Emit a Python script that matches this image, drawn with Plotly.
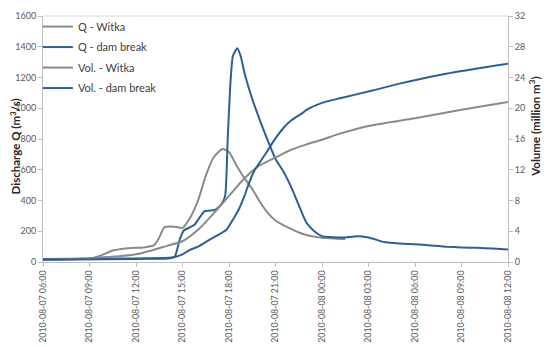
import plotly.graph_objects as go

# ---------------- data ----------------
q_witka_t = ["2010-08-07 06:00", "2010-08-07 08:00", "2010-08-07 09:00", "2010-08-07 09:40",
             "2010-08-07 10:30", "2010-08-07 11:30", "2010-08-07 12:30", "2010-08-07 13:10",
             "2010-08-07 13:30", "2010-08-07 13:50", "2010-08-07 14:30", "2010-08-07 15:00",
             "2010-08-07 15:30", "2010-08-07 16:00", "2010-08-07 16:30", "2010-08-07 17:00",
             "2010-08-07 17:35", "2010-08-07 18:00", "2010-08-07 18:30", "2010-08-07 19:00",
             "2010-08-07 19:30", "2010-08-07 20:00", "2010-08-07 20:30", "2010-08-07 21:00",
             "2010-08-07 21:30", "2010-08-07 22:00", "2010-08-07 22:30", "2010-08-07 23:00",
             "2010-08-07 23:30", "2010-08-08 00:00", "2010-08-08 00:30", "2010-08-08 01:00",
             "2010-08-08 01:30"]
q_witka = [15, 18, 22, 40, 75, 90, 95, 110, 160, 225, 230, 222, 290, 400, 560, 680,
           735, 715, 625, 545, 475, 390, 320, 270, 240, 215, 192, 176, 165, 158, 155, 152, 150]

q_dam_t = ["2010-08-07 06:00", "2010-08-07 10:00", "2010-08-07 14:10", "2010-08-07 14:30",
           "2010-08-07 14:50", "2010-08-07 15:05", "2010-08-07 15:45", "2010-08-07 16:25",
           "2010-08-07 17:05", "2010-08-07 17:30", "2010-08-07 17:45", "2010-08-07 17:55",
           "2010-08-07 18:05", "2010-08-07 18:15", "2010-08-07 18:32", "2010-08-07 18:45",
           "2010-08-07 19:00", "2010-08-07 19:30", "2010-08-07 20:00", "2010-08-07 20:30",
           "2010-08-07 21:00", "2010-08-07 21:30", "2010-08-07 22:00", "2010-08-07 22:30",
           "2010-08-07 23:00", "2010-08-07 23:30", "2010-08-08 00:00", "2010-08-08 00:30",
           "2010-08-08 01:00", "2010-08-08 01:30", "2010-08-08 02:15", "2010-08-08 03:00",
           "2010-08-08 04:00", "2010-08-08 05:00", "2010-08-08 06:00", "2010-08-08 07:00",
           "2010-08-08 08:00", "2010-08-08 09:00", "2010-08-08 10:00", "2010-08-08 11:00",
           "2010-08-08 12:00"]
q_dam = [20, 22, 28, 35, 150, 205, 240, 330, 338, 375, 430, 800, 1150, 1340, 1390, 1340,
         1230, 1060, 920, 790, 670, 590, 490, 370, 255, 200, 168, 162, 160, 160, 168, 160,
         130, 120, 115, 108, 100, 95, 92, 88, 82]

v_witka_t = ["2010-08-07 06:00", "2010-08-07 09:00", "2010-08-07 12:00", "2010-08-07 13:00",
             "2010-08-07 14:00", "2010-08-07 15:00", "2010-08-07 16:00", "2010-08-07 17:00",
             "2010-08-07 18:00", "2010-08-07 19:00", "2010-08-07 20:00", "2010-08-07 21:00",
             "2010-08-07 22:00", "2010-08-07 23:00", "2010-08-08 00:00", "2010-08-08 01:00",
             "2010-08-08 03:00", "2010-08-08 06:00", "2010-08-08 09:00", "2010-08-08 12:00"]
v_witka = [0.3, 0.5, 1.0, 1.5, 2.1, 2.7, 4.2, 6.3, 8.6, 10.9, 12.6, 13.6, 14.6, 15.3,
           15.9, 16.6, 17.7, 18.7, 19.8, 20.8]

v_dam_t = ["2010-08-07 06:00", "2010-08-07 12:00", "2010-08-07 14:10", "2010-08-07 15:00",
           "2010-08-07 15:30", "2010-08-07 16:00", "2010-08-07 16:45", "2010-08-07 17:50",
           "2010-08-07 18:15", "2010-08-07 18:40", "2010-08-07 19:00", "2010-08-07 19:20",
           "2010-08-07 19:40", "2010-08-07 20:00", "2010-08-07 20:30", "2010-08-07 20:50",
           "2010-08-07 21:30", "2010-08-07 22:00", "2010-08-07 22:45", "2010-08-07 23:00",
           "2010-08-08 00:00", "2010-08-08 01:10", "2010-08-08 03:15", "2010-08-08 05:00",
           "2010-08-08 08:00", "2010-08-08 12:00"]
v_dam = [0.3, 0.4, 0.5, 1.0, 1.6, 2.0, 2.9, 4.2, 5.5, 7.0, 8.6, 10.5, 12.0, 13.0, 14.5,
         15.6, 17.4, 18.4, 19.4, 19.8, 20.7, 21.3, 22.3, 23.2, 24.5, 25.8]

names = ["Q - Witka", "Q - dam break", "Vol. - Witka", "Vol. - dam break"]
y_title = "<b>Discharge Q (m<sup>3</sup>/s)</b>"
y2_title = "<b>Volume (million m<sup>3</sup>)</b>"

GRAY = "#8a8a8a"
BLUE = "#2f5d98"
FONT = "Lato"
TICKC = "#595959"
AXC = "#bfbfbf"

fig = go.Figure()
fig.add_trace(go.Scatter(x=q_witka_t, y=q_witka, name=names[0], mode="lines", legendgroup="a",
                         line=dict(color=GRAY, width=2, shape="spline", smoothing=0.6)))
fig.add_trace(go.Scatter(x=q_dam_t, y=q_dam, name=names[1], mode="lines", legendgroup="b",
                         line=dict(color=BLUE, width=2, shape="spline", smoothing=0.5)))
fig.add_trace(go.Scatter(x=v_witka_t, y=v_witka, name=names[2], mode="lines", yaxis="y2",
                         legendgroup="c",
                         line=dict(color=GRAY, width=2, shape="spline", smoothing=0.6)))
fig.add_trace(go.Scatter(x=v_dam_t, y=v_dam, name=names[3], mode="lines", yaxis="y2",
                         legendgroup="d",
                         line=dict(color=BLUE, width=2, shape="spline", smoothing=0.6)))

# the page body adds an 8 px offset, so the figure is 8 px smaller than the window
fig.update_layout(
    width=542, height=339,
    margin=dict(l=35, r=42, t=8, b=85, autoexpand=False),
    paper_bgcolor="white", plot_bgcolor="white",
    font=dict(family=FONT, color=TICKC, size=9),
    showlegend=True,
    legend=dict(x=-0.011, y=1.016, xanchor="left", yanchor="top",
                bgcolor="rgba(0,0,0,0)", font=dict(size=11, color="#404040"),
                itemwidth=30, tracegroupgap=1.5),
    xaxis=dict(type="date", range=["2010-08-07 06:00", "2010-08-08 12:00"],
               tick0="2010-08-07 06:00", dtick=3 * 3600 * 1000,
               tickformat="%Y-%m-%d %H:%M", tickangle=-90, automargin=False,
               showgrid=False, zeroline=False, showline=True, linecolor=AXC, linewidth=1,
               ticks="outside", ticklen=4, tickcolor=AXC,
               tickfont=dict(size=8.8, color=TICKC)),
    yaxis=dict(range=[0, 1600], dtick=200, showgrid=False, zeroline=False, automargin=False,
               showline=True, linecolor=AXC, linewidth=1, ticks="outside", ticklen=4,
               tickcolor=AXC, tickfont=dict(size=9, color=TICKC)),
    yaxis2=dict(range=[0, 32], dtick=4, overlaying="y", side="right", showgrid=False,
                zeroline=False, showline=True, linecolor=AXC, linewidth=1, ticks="outside",
                ticklen=4, tickcolor=AXC, tickfont=dict(size=9, color=TICKC),
                automargin=False),
    shapes=[dict(type="line", xref="paper", yref="paper", x0=0, x1=1, y0=1, y1=1,
                 line=dict(color="#d9d9d9", width=1))],
    annotations=[
        dict(text=y_title, textangle=-90, xref="paper", yref="paper",
             x=0, xshift=-28, y=0.47, xanchor="center", yanchor="middle", showarrow=False,
             font=dict(size=11.5, color="#262626")),
        dict(text=y2_title, textangle=-90, xref="paper", yref="paper",
             x=1, xshift=27, y=0.55, xanchor="center", yanchor="middle", showarrow=False,
             font=dict(size=11.5, color="#262626")),
    ],
)

fig.write_html("out.html")
